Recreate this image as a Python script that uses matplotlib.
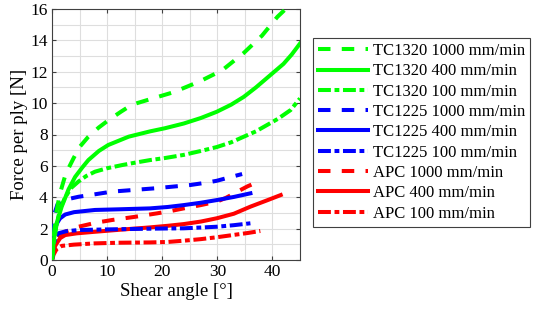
import matplotlib
matplotlib.use("Agg")
import matplotlib.pyplot as plt
from matplotlib.ticker import MultipleLocator

plt.rcParams['font.family'] = ['Liberation Serif', 'DejaVu Serif']

# ---- data ----
tc1320_1000_x = [0, 0.3, 0.7, 1.45, 2.5, 3.9, 5.0, 6.6, 8.5, 10.2, 12.5, 14.5, 17.8, 22.1, 26.9, 30.9, 34.8, 38.1, 40.9, 42.4, 43.5]
tc1320_1000_y = [0, 1.5, 2.9, 4.25, 5.5, 6.48, 7.2, 7.86, 8.45, 8.9, 9.45, 9.9, 10.25, 10.7, 11.4, 12.1, 13.2, 14.3, 15.5, 16.0, 16.5]

tc1320_400_x = [0, 0.3, 0.8, 1.76, 3, 4.2, 5.5, 6.6, 8.5, 10.2, 13.9, 17.8, 20.5, 23.9, 27, 29.9, 32.5, 34.8, 37, 39, 41, 42, 43.5, 45]
tc1320_400_y = [0, 1.2, 2.3, 3.4, 4.5, 5.3, 5.9, 6.37, 6.95, 7.33, 7.86, 8.2, 8.4, 8.7, 9.05, 9.45, 9.9, 10.4, 11.0, 11.6, 12.2, 12.5, 13.1, 13.8]

tc1320_100_x = [0, 0.3, 0.8, 1.5, 2.4, 3.5, 4.8, 6.2, 7.8, 10, 12.7, 15, 17.8, 20.5, 23.9, 27, 29.9, 32.5, 34.8, 37, 39, 41, 43.3, 45]
tc1320_100_y = [0, 1.0, 2.2, 3.3, 4.0, 4.6, 5.0, 5.35, 5.63, 5.85, 6.05, 6.2, 6.37, 6.5, 6.7, 6.95, 7.2, 7.5, 7.86, 8.2, 8.6, 9.0, 9.56, 10.3]

tc1225_1000_x = [0, 0.2, 0.5, 1.0, 2.1, 4.8, 8, 10.9, 15, 18.7, 22, 25.1, 28, 29.9, 32, 34.5]
tc1225_1000_y = [0, 1.8, 3.0, 3.55, 3.82, 4.03, 4.2, 4.36, 4.47, 4.57, 4.68, 4.78, 4.93, 5.05, 5.25, 5.48]

tc1225_400_x = [0, 0.2, 0.5, 1.0, 1.45, 2.4, 4, 7.8, 12, 17.8, 21, 23.9, 27, 29.9, 33, 36]
tc1225_400_y = [0, 1.2, 2.0, 2.4, 2.65, 2.9, 3.05, 3.19, 3.23, 3.29, 3.38, 3.5, 3.65, 3.82, 4.02, 4.25]

tc1225_100_x = [0, 0.3, 0.7, 1.15, 2.5, 4.8, 10, 15, 18.7, 21, 23.9, 27, 29.9, 33, 36]
tc1225_100_y = [0, 1.0, 1.5, 1.7, 1.83, 1.91, 1.95, 1.98, 2.0, 2.01, 2.02, 2.07, 2.12, 2.22, 2.34]

apc_1000_x = [0, 0.3, 0.8, 1.5, 2.4, 4.8, 8, 10.9, 15, 19, 21.5, 23.9, 27, 29.9, 31.5, 33.6, 35.5, 37.5]
apc_1000_y = [0, 0.8, 1.3, 1.6, 1.8, 2.12, 2.38, 2.55, 2.75, 2.97, 3.12, 3.29, 3.5, 3.72, 3.95, 4.35, 4.7, 5.0]

apc_400_x = [0, 0.2, 0.5, 0.85, 1.5, 2.4, 4.5, 7.8, 12, 17.8, 21, 23.9, 27, 29.9, 33, 36, 39, 41.5]
apc_400_y = [0, 0.5, 0.85, 1.06, 1.4, 1.59, 1.7, 1.8, 1.92, 2.08, 2.18, 2.29, 2.45, 2.66, 2.95, 3.4, 3.8, 4.14]

apc_100_x = [0, 0.3, 0.6, 0.85, 1.76, 4, 7.8, 12, 17.8, 21, 23.9, 27, 29.9, 33, 35.5, 37.8]
apc_100_y = [0, 0.35, 0.55, 0.7, 0.9, 0.98, 1.06, 1.1, 1.12, 1.15, 1.23, 1.33, 1.45, 1.6, 1.72, 1.85]

labels = ["TC1320 1000 mm/min", "TC1320 400 mm/min", "TC1320 100 mm/min",
          "TC1225 1000 mm/min", "TC1225 400 mm/min", "TC1225 100 mm/min",
          "APC 1000 mm/min", "APC 400 mm/min", "APC 100 mm/min"]

GREEN, BLUE, RED = '#00ff00', '#0000ff', '#ff0000'
dashed = (0, (3.1, 2.8))
dashdot = (0, (3.2, 0.9, 1.2, 0.9))
solid = '-'

series = [
    (tc1320_1000_x, tc1320_1000_y, GREEN, dashed),
    (tc1320_400_x, tc1320_400_y, GREEN, solid),
    (tc1320_100_x, tc1320_100_y, GREEN, dashdot),
    (tc1225_1000_x, tc1225_1000_y, BLUE, dashed),
    (tc1225_400_x, tc1225_400_y, BLUE, solid),
    (tc1225_100_x, tc1225_100_y, BLUE, dashdot),
    (apc_1000_x, apc_1000_y, RED, dashed),
    (apc_400_x, apc_400_y, RED, solid),
    (apc_100_x, apc_100_y, RED, dashdot),
]

fig = plt.figure(figsize=(5.33, 3.15), dpi=100)
ax = fig.add_axes([52/533, 1-260/315, (300-52)/533, (260-9)/315])

handles = []
for i, (xs, ys, c, ls) in enumerate(series):
    z = 3 + (9 - i) * 0.1
    h, = ax.plot(xs, ys, color=c, linestyle=ls, lw=2.9, zorder=z)
    handles.append(h)

ax.set_xlim(0, 45)
ax.set_ylim(0, 16)
ax.xaxis.set_major_locator(MultipleLocator(10))
ax.xaxis.set_minor_locator(MultipleLocator(5))
ax.yaxis.set_major_locator(MultipleLocator(2))
ax.yaxis.set_minor_locator(MultipleLocator(1))
ax.grid(which='both', color='#dedede', lw=0.8)
ax.set_axisbelow(True)
ax.tick_params(which='major', direction='in', top=True, right=True, length=3,
               labelsize=12.5, color='#404040', pad=3)
ax.tick_params(which='minor', length=0)
for s in ax.spines.values():
    s.set_color('#404040')
    s.set_linewidth(0.8)

ax.set_xlabel("Shear angle [°]", fontsize=13.5, labelpad=2)
ax.set_ylabel("Force per ply [N]", fontsize=13.5, labelpad=2)

leg = fig.legend(handles, labels, loc='upper left',
                 bbox_to_anchor=(313/533, 1-38/315), bbox_transform=fig.transFigure,
                 fontsize=12, handlelength=3.0, handletextpad=0.3,
                 labelspacing=0.26, borderpad=0.3, borderaxespad=0,
                 fancybox=False, framealpha=1, edgecolor='#404040')
leg.get_frame().set_linewidth(0.8)

fig.savefig("out.png", dpi=100)
